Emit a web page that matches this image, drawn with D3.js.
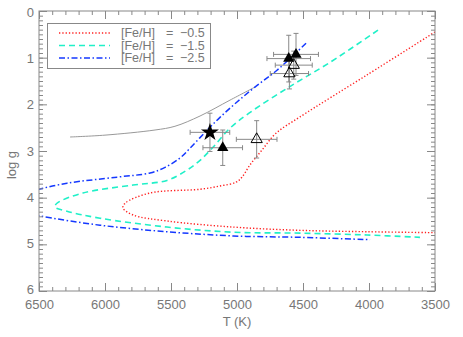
<!DOCTYPE html>
<html>
<head>
<meta charset="utf-8">
<script src="https://cdn.jsdelivr.net/npm/d3@7"></script>
<style>
  body { margin: 0; background: #fff; }
  svg { display: block; }
  text { font-family: 'Liberation Sans', Arial, sans-serif; fill: #777; }
</style>
</head>
<body>
<svg></svg>
<script>
// isochrones, temperature (K) and log g along the track
let redT = [3500, 4015, 4523, 4705, 4811, 4902, 4962, 5008, 5129, 5280, 5659, 5848, 5864, 5788, 5530, 5030, 4523, 4015, 3500]
let redG = [0.45, 1.37, 2.27, 2.62, 2.98, 3.30, 3.56, 3.67, 3.75, 3.82, 3.90, 4.12, 4.22, 4.37, 4.50, 4.63, 4.70, 4.73, 4.75]

let cyanT = [3932, 4295, 4606, 4909, 5053, 5182, 5280, 5379, 5530, 5788, 6167, 6364, 6379, 6288, 6038, 5530, 5030, 4523, 4015, 3614]
let cyanG = [0.41, 1.10, 1.63, 2.19, 2.51, 2.92, 3.20, 3.41, 3.63, 3.73, 3.90, 4.12, 4.20, 4.29, 4.44, 4.63, 4.74, 4.76, 4.80, 4.85]

let blueT = [4477, 4697, 4864, 5000, 5129, 5242, 5356, 5432, 5545, 5659, 5909, 6288, 6500, 6700, 6760, 6700, 6500, 6038, 5530, 5030, 4523, 3992]
let blueG = [0.69, 1.27, 1.63, 1.95, 2.28, 2.60, 2.94, 3.15, 3.35, 3.47, 3.56, 3.69, 3.82, 3.98, 4.12, 4.28, 4.39, 4.59, 4.73, 4.82, 4.85, 4.90]

let grayT = [6265, 6000, 5621, 5470, 5280, 5053, 4864]
let grayG = [2.70, 2.66, 2.55, 2.47, 2.25, 1.91, 1.63]

// stars
let filledT = [5108, 4608, 4553]
let filledG = [2.93, 1.02, 0.93]
let filledTerr = [150, 165, 170]
let filledGerr = [0.38, 0.50, 0.45]

let openT = [4851, 4603, 4570]
let openG = [2.75, 1.34, 1.16]
let openTerr = [154, 145, 140]
let openGerr = [0.40, 0.33, 0.30]

let starT = [5205]
let starG = [2.60]
let starTerr = [150]
let starGerr = [0.41]

let legendValues = ['\u22120.5', '\u22121.5', '\u22122.5']

let width = 463
let height = 337
let padL = 39, padR = 435, padT = 11, padB = 291

let svg = d3.select('svg').attr('width', width).attr('height', height)

let xScale = d3.scaleLinear().domain([6500, 3500]).range([padL, padR])
let yScale = d3.scaleLinear().domain([0, 6]).range([padT, padB])

let zip = (a, b) => a.map((v, i) => [v, b[i]])

svg.append('clipPath').attr('id', 'clip')
    .append('rect')
    .attr('x', padL).attr('y', padT)
    .attr('width', padR - padL).attr('height', padB - padT)

let line = d3.line()
    .x(d => xScale(d[0]))
    .y(d => yScale(d[1]))
    .curve(d3.curveCatmullRom.alpha(0.5))

let tracks = [
    {data: zip(grayT, grayG), color: '#999', dash: null, w: 1},
    {data: zip(redT, redG), color: '#ff2020', dash: '1.3,2', w: 1.4},
    {data: zip(cyanT, cyanG), color: '#20f0c8', dash: '6,4', w: 1.6},
    {data: zip(blueT, blueG), color: '#1438ff', dash: '6,2.5,1.5,2.5', w: 1.5}
]

let plot = svg.append('g').attr('clip-path', 'url(#clip)')
tracks.forEach(t => {
    plot.append('path')
        .attr('d', line(t.data))
        .attr('fill', 'none')
        .attr('stroke', t.color)
        .attr('stroke-width', t.w)
        .attr('stroke-dasharray', t.dash)
})

// error bars
let errColor = '#888'
let drawErr = (T, G, Te, Ge) => {
    T.forEach((t, i) => {
        let cx = xScale(t), cy = yScale(G[i])
        let x1 = xScale(t + Te[i]), x2 = xScale(t - Te[i])
        let y1 = yScale(G[i] - Ge[i]), y2 = yScale(G[i] + Ge[i])
        let g = plot.append('g').attr('stroke', errColor).attr('stroke-width', 1)
        g.append('line').attr('x1', x1).attr('x2', x2).attr('y1', cy).attr('y2', cy)
        g.append('line').attr('x1', cx).attr('x2', cx).attr('y1', y1).attr('y2', y2)
        g.append('line').attr('x1', x1).attr('x2', x1).attr('y1', cy - 2.5).attr('y2', cy + 2.5)
        g.append('line').attr('x1', x2).attr('x2', x2).attr('y1', cy - 2.5).attr('y2', cy + 2.5)
        g.append('line').attr('x1', cx - 2.5).attr('x2', cx + 2.5).attr('y1', y1).attr('y2', y1)
        g.append('line').attr('x1', cx - 2.5).attr('x2', cx + 2.5).attr('y1', y2).attr('y2', y2)
    })
}
drawErr(openT, openG, openTerr, openGerr)
drawErr(filledT, filledG, filledTerr, filledGerr)
drawErr(starT, starG, starTerr, starGerr)

let tri = d3.symbol().type(d3.symbolTriangle).size(55)
plot.selectAll('.open').data(zip(openT, openG)).enter()
    .append('path').attr('class', 'open')
    .attr('d', tri)
    .attr('transform', d => 'translate(' + xScale(d[0]) + ',' + yScale(d[1]) + ')')
    .attr('fill', 'none').attr('stroke', '#000').attr('stroke-width', 1)

plot.selectAll('.filled').data(zip(filledT, filledG)).enter()
    .append('path').attr('class', 'filled')
    .attr('d', tri)
    .attr('transform', d => 'translate(' + xScale(d[0]) + ',' + yScale(d[1]) + ')')
    .attr('fill', '#000')

plot.selectAll('.star').data(zip(starT, starG)).enter()
    .append('path').attr('class', 'star')
    .attr('d', d3.symbol().type(d3.symbolStar).size(100))
    .attr('transform', d => 'translate(' + xScale(d[0]) + ',' + yScale(d[1]) + ')')
    .attr('fill', '#000')

// axes, ticks on all four sides pointing inward
let axisColor = '#888'
let styleAxis = (g) => {
    g.select('.domain').remove()
    g.selectAll('line').attr('stroke', axisColor)
    g.selectAll('text').style('font-size', '13px').attr('fill', '#777')
}
let xMajor = d3.range(3500, 6501, 500)
let xMinor = d3.range(3500, 6501, 100)
let yMajor = d3.range(0, 7, 1)
let yMinor = d3.range(0, 6.01, 0.1)

svg.append('g').attr('transform', 'translate(0,' + padB + ')')
    .call(d3.axisBottom(xScale).tickValues(xMinor).tickSize(-4).tickFormat('')).call(styleAxis)
svg.append('g').attr('transform', 'translate(0,' + padB + ')')
    .call(d3.axisBottom(xScale).tickValues(xMajor).tickSize(-8).tickPadding(9).tickFormat(d3.format('d'))).call(styleAxis)
svg.append('g').attr('transform', 'translate(0,' + padT + ')')
    .call(d3.axisTop(xScale).tickValues(xMinor).tickSize(-4).tickFormat('')).call(styleAxis)
svg.append('g').attr('transform', 'translate(0,' + padT + ')')
    .call(d3.axisTop(xScale).tickValues(xMajor).tickSize(-8).tickFormat('')).call(styleAxis)

svg.append('g').attr('transform', 'translate(' + padL + ',0)')
    .call(d3.axisLeft(yScale).tickValues(yMinor).tickSize(-4).tickFormat('')).call(styleAxis)
let yAxisG = svg.append('g').attr('transform', 'translate(' + padL + ',0)')
    .call(d3.axisLeft(yScale).tickValues(yMajor).tickSize(-8).tickPadding(5).tickFormat(d3.format('d'))).call(styleAxis)
// IDL puts the outer labels a little inside the ends
yAxisG.selectAll('text').attr('dy', d => (0.32 + (3 - d) * 0.035) + 'em')
svg.append('g').attr('transform', 'translate(' + padR + ',0)')
    .call(d3.axisRight(yScale).tickValues(yMinor).tickSize(-4).tickFormat('')).call(styleAxis)
svg.append('g').attr('transform', 'translate(' + padR + ',0)')
    .call(d3.axisRight(yScale).tickValues(yMajor).tickSize(-8).tickFormat('')).call(styleAxis)

svg.append('rect')
    .attr('x', padL).attr('y', padT)
    .attr('width', padR - padL).attr('height', padB - padT)
    .attr('fill', 'none').attr('stroke', axisColor).attr('stroke-width', 1)

svg.append('text')
    .attr('x', (padL + padR) / 2).attr('y', 326)
    .attr('text-anchor', 'middle')
    .style('font-size', '13px')
    .text('T (K)')

svg.append('text')
    .attr('transform', 'translate(16,165) rotate(-90)')
    .attr('text-anchor', 'middle')
    .style('font-size', '13px')
    .text('log g')

// legend
let legend = svg.append('g')
legend.append('rect')
    .attr('x', 47.5).attr('y', 23.5).attr('width', 163).attr('height', 45)
    .attr('fill', '#fff').attr('stroke', axisColor)
let legendY = [33, 45.5, 58]
tracks.slice(1).forEach((t, i) => {
    legend.append('line')
        .attr('x1', 59).attr('x2', 110)
        .attr('y1', legendY[i]).attr('y2', legendY[i])
        .attr('stroke', t.color).attr('stroke-width', t.w)
        .attr('stroke-dasharray', t.dash)
    let pieces = [[121, '[Fe/H]'], [166, '='], [180, legendValues[i]]]
    pieces.forEach(p => {
        legend.append('text')
            .attr('x', p[0]).attr('y', legendY[i] + 4.3)
            .style('font-size', '12.5px')
            .text(p[1])
    })
})
</script>
</body>
</html>
